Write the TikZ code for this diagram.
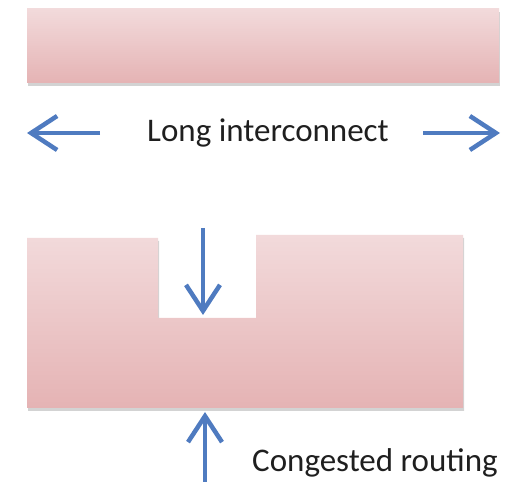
\documentclass[tikz,border=0pt]{standalone}
\usepackage{fontspec}
\setmainfont{Carlito}
\usetikzlibrary{arrows.meta,shadows}
\definecolor{pinktop}{HTML}{F2DADB}
\definecolor{pinkbot}{HTML}{E5B3B4}
\definecolor{arrowblue}{HTML}{4F7BC0}
\tikzset{
  wire/.style={top color=pinktop, bottom color=pinkbot, draw=none,
    drop shadow={opacity=0.35, shadow xshift=1pt, shadow yshift=-3pt}},
  bluearrow/.style={draw=arrowblue, line width=4.5pt,
    -{Straight Barb[length=26pt, width=34pt, line width=4.5pt]}},
  lbl/.style={text=black!88, inner sep=0pt, font=\fontsize{33}{40}\selectfont}
}
\begin{document}
\begin{tikzpicture}[x=1pt,y=1pt]
\useasboundingbox (0,0) rectangle (512,482);
% top bar
\path[wire] (27,399) rectangle (499,473);
% notched shape
\path[wire] (27,74) -- (27,244) -- (158,244) -- (158,164) -- (256,164) -- (256,247) -- (463,247) -- (463,74) -- cycle;
% labels
\node[lbl, anchor=base] (long) at (268,340) {Long interconnect};
\node[lbl, anchor=base west] (cong) at (252,10) {Congested routing};
% arrow coordinates
\coordinate (lA) at (100,349);
\coordinate (lB) at (27,349);
\coordinate (rA) at (423,349);
\coordinate (rB) at (500,349);
\coordinate (dA) at (203,254);
\coordinate (dB) at (203,167);
\coordinate (uA) at (205,0);
\coordinate (uB) at (205,70);
\draw[bluearrow] (lA) -- (lB);
\draw[bluearrow] (rA) -- (rB);
\draw[bluearrow] (dA) -- (dB);
\draw[bluearrow] (uA) -- (uB);
\end{tikzpicture}
\end{document}
